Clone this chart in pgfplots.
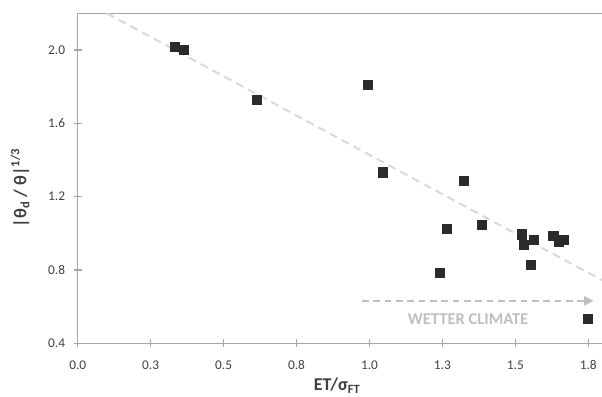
\documentclass[border=0pt]{standalone}
\usepackage{fontspec}
\setmainfont{Carlito}
\usepackage{pgfplots}
\pgfplotsset{compat=1.18}
\usetikzlibrary{arrows.meta}
\definecolor{axgray}{HTML}{A6A6A6}
\definecolor{tickgray}{HTML}{404040}
\definecolor{markgray}{HTML}{2B2B2B}
\definecolor{trendgray}{HTML}{D9D9D9}
\definecolor{arrowgray}{HTML}{BFBFBF}
\pgfplotstableread{
x y
0.334 2.018
0.364 2.000
0.615 1.727
0.993 1.809
1.046 1.333
1.324 1.287
1.265 1.024
1.385 1.049
1.242 0.785
1.522 0.995
1.530 0.940
1.563 0.967
1.553 0.827
1.630 0.987
1.648 0.954
1.665 0.967
1.747 0.536
}\datatable
\begin{document}
\begin{tikzpicture}
\begin{axis}[
  scale only axis,
  width=393.2pt, height=247.5pt,
  at={(0,0)}, anchor=south west,
  xmin=0, xmax=1.797, ymin=0.4, ymax=2.2,
  axis lines=left,
  axis line style={-, axgray, line width=0.8pt},
  xtick={0,0.25,0.5,0.75,1,1.25,1.5,1.75},
  xticklabels={0.0,0.3,0.5,0.8,1.0,1.3,1.5,1.8},
  ytick={0.4,0.8,1.2,1.6,2.0},
  yticklabels={0.4,0.8,1.2,1.6,2.0},
  tick align=center,
  major tick length=6pt,
  tick style={axgray, line width=0.8pt},
  xticklabel style={font=\fontsize{10}{12}\selectfont, text=tickgray, yshift=-6.5pt},
  yticklabel style={font=\fontsize{10}{12}\selectfont, text=tickgray, xshift=-3pt},
  clip=true,
]
\draw[axgray, line width=0.8pt] (rel axis cs:0,1) -- (rel axis cs:1,1);
\addplot[only marks, mark=square*, mark size=3.4pt, color=markgray, mark options={fill=markgray, draw=markgray}] table[x=x, y=y] {\datatable};
\addplot[trendgray, line width=1.5pt, dash pattern=on 6pt off 4pt, no marks] coordinates {(0.100,2.200) (1.85,0.699)};
\addplot[arrowgray, line width=1.2pt, dash pattern=on 5pt off 3.5pt, no marks, -{Triangle[length=7pt,width=7pt]}] coordinates {(0.974,0.632) (1.768,0.632)};
\node[font=\bfseries\fontsize{12.4}{14}\selectfont, text=arrowgray] at (axis cs:1.338,0.534) {WETTER CLIMATE};
\end{axis}
\node[font=\bfseries\fontsize{13.5}{16}\selectfont, text=tickgray, anchor=base] at (194.6pt,-35.5pt) {ET/σ\textsubscript{FT}};
\node[font=\bfseries\fontsize{13.5}{16}\selectfont, text=tickgray, rotate=90, anchor=center] at (-43.3pt,116.8pt) {|θ\textsubscript{d} / θ|\textsuperscript{1/3}};
\pgfresetboundingbox
\path (-58.3pt,-39.5pt) rectangle (393.2pt,257.5pt);
\end{tikzpicture}
\end{document}
